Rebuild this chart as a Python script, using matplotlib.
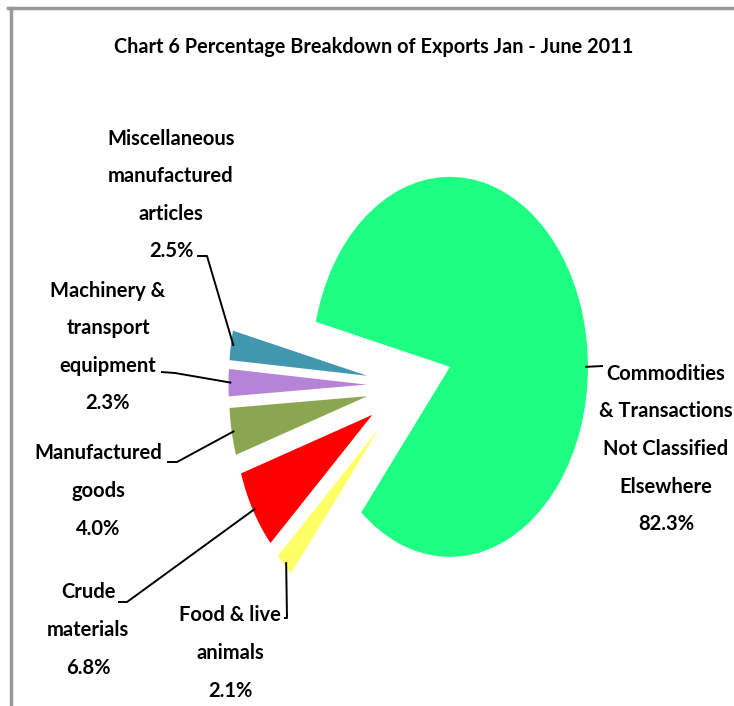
import numpy as np
import matplotlib
matplotlib.use("Agg")
import matplotlib.pyplot as plt
from matplotlib.lines import Line2D

plt.rcParams['font.family'] = ['Lato', 'DejaVu Sans']

title = "Chart 6 Percentage Breakdown of Exports Jan - June 2011"
categories = ["Commodities\n& Transactions\nNot Classified\nElsewhere",
              "Miscellaneous\nmanufactured\narticles",
              "Machinery &\ntransport\nequipment",
              "Manufactured\ngoods",
              "Crude\nmaterials",
              "Food & live\nanimals"]
shares = [82.3, 2.5, 2.3, 4.0, 6.8, 2.1]
colors = ["#1CFF82", "#4197AE", "#B584D9", "#8BA650", "#FF0000", "#FFFF66"]

# label centres, leader start / elbow (pixels)
label_pos = [(666, 449), (171, 195), (108, 347), (98, 491), (88, 630), (230, 653)]
leader_start = [(603, 366), (197, 256), (161, 372), (167, 462), (118, 602), (284, 618)]
leader_elbow = [(603, 366), (207, 256), (175, 373), (177, 462), (127, 602), (287, 618)]

W, H = 734, 706
cx, cy = 409.3, 385.2     # pie centre in pixels
sx, sy = 138.0, 190.0     # pixels per unit radius (chart is stretched vertically)


def px(x, y):
    return (x - cx) / sx, (cy - y) / sy


fig = plt.figure(figsize=(W / 100, H / 100), dpi=100)
ax = fig.add_axes([0, 0, 1, 1])
wedges, _ = ax.pie(shares, colors=colors, startangle=230, counterclock=True,
                   explode=[0.31] * len(shares), radius=1.0,
                   wedgeprops=dict(linewidth=0))
ax.set_aspect('auto')
ax.set_xlim(-cx / sx, (W - cx) / sx)
ax.set_ylim((cy - H) / sy, cy / sy)
ax.axis('off')

for i, w in enumerate(wedges):
    lx, ly = px(*label_pos[i])
    ax.text(lx, ly, f"{categories[i]}\n{shares[i]:.1f}%", ha='center', va='center',
            multialignment='center', fontsize=14.5, fontweight='bold',
            linespacing=2.1, color='black')
    # point on the outer arc of the slice
    if i == 0:
        ang = 0.0
    else:
        ang = (w.theta1 + w.theta2) / 2
    r = w.r * 0.98
    ex = w.center[0] + r * np.cos(np.radians(ang))
    ey = w.center[1] + r * np.sin(np.radians(ang))
    xs, ys = zip(px(*leader_start[i]), px(*leader_elbow[i]), (ex, ey))
    ax.plot(xs, ys, color='black', lw=1.4, solid_capstyle='butt')

fig.text(374 / W, 1 - 47 / H, title, ha='center', va='center',
         fontsize=14.3, fontweight='bold')

# chart frame (top and left edges visible)
fig.add_artist(Line2D([8 / W, 1], [1 - 8 / H, 1 - 8 / H], color='#999999', lw=2.5))
fig.add_artist(Line2D([10.5 / W, 10.5 / W], [0, 1 - 8 / H], color='#999999', lw=2.5))

fig.savefig("out.png", dpi=100)
